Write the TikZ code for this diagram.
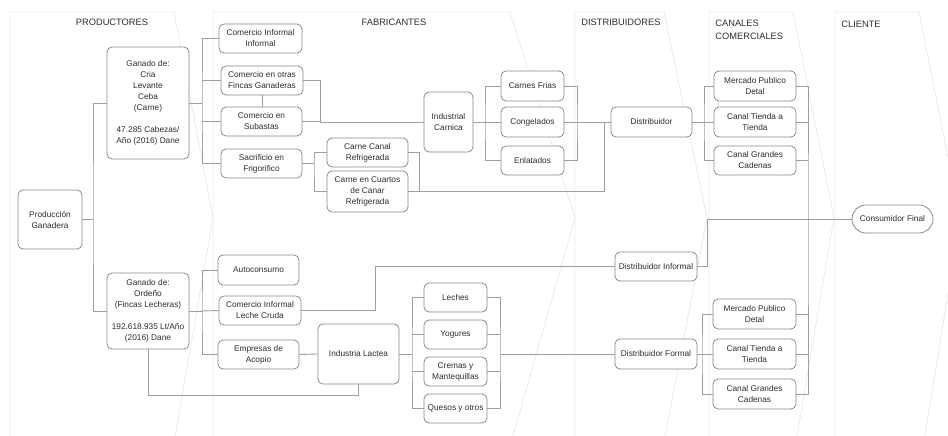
\documentclass[tikz,border=0pt]{standalone}
\usepackage{fontspec}
\setmainfont{Liberation Sans}
\definecolor{lineagris}{RGB}{158,158,158}
\definecolor{bordegris}{RGB}{135,135,135}
\definecolor{carrilgris}{RGB}{234,234,234}
\definecolor{textogris}{RGB}{45,45,45}

\begin{document}
\begin{tikzpicture}[x=1pt, y=-1pt, line width=0.8pt,
		caja/.style={draw=bordegris, fill=white, rounded corners=5pt, align=center, inner sep=1pt,
			line width=0.75pt, minimum width=81, minimum height=29, text=textogris,
			font=\fontsize{8.3}{11}\selectfont},
		enlace/.style={draw=lineagris, line width=0.9pt},
		carril/.style={draw=carrilgris, line width=0.8pt},
		titulo/.style={text=textogris, inner sep=0pt, font=\fontsize{9.3}{12.5}\selectfont}]
		\useasboundingbox (0,0) rectangle (948,436);
		\clip (0,0) rectangle (948,436);
		% carriles
		\draw[carril] (10,436) -- (10,12) -- (174,12) -- (213,218) -- (175,436);
		\draw[carril] (213,436) -- (213,12) -- (510,12) -- (575,218) -- (513,436);
		\draw[carril] (575,436) -- (575,12) -- (664,12) -- (707,218) -- (665,436);
		\draw[carril] (709,436) -- (709,12) -- (793,12) -- (834,218) -- (797,436);
		\draw[carril] (835,436) -- (835,12) -- (919,12) -- (960,218) -- (925,436);
		\node[titulo] (tProd) at (112,22.5) {PRODUCTORES};
		\node[titulo] (tFab) at (394,22.5) {FABRICANTES};
		\node[titulo, anchor=west] (tDist) at (581,22.5) {DISTRIBUIDORES};
		\node[titulo, anchor=west, align=left] (tCan) at (715,30) {CANALES\\COMERCIALES};
		\node[titulo, anchor=west] (tCli) at (841,24) {CLIENTE};
		% productores
		\node[caja, minimum width=64, minimum height=59] (prod) at (50,219.5) {Producción\\Ganadera};
		\node[caja, minimum width=82, minimum height=112] (ganC) at (148,103)
			{Ganado de:\\Cria\\Levante\\Ceba\\(Carne)\\[11pt]47.285 Cabezas/\\Año (2016) Dane};
		\node[caja, minimum width=82, minimum height=76] (ganO) at (148,311)
			{Ganado de:\\Ordeño\\(Fincas Lecheras)\\[11pt]192.618.935 Lt/Año\\(2016) Dane};
		% fabricantes
		\node[caja, minimum width=83] (cInf) at (260.5,38.5) {Comercio Informal\\Informal};
		\node[caja, minimum width=82] (cFin) at (262,80.5) {Comercio en otras\\Fincas Ganaderas};
		\node[caja] (cSub) at (261.5,121.5) {Comercio en\\Subastas};
		\node[caja] (sacr) at (261.5,163.5) {Sacrificio en\\Frigorifico};
		\node[caja] (canal) at (367.5,152.5) {Carne Canal\\Refrigerada};
		\node[caja, minimum height=41] (cuart) at (367.5,191.5) {Carne en Cuartos\\de Canar\\Refrigerada};
		\node[caja, minimum width=49, minimum height=60] (indC) at (448.5,122) {Industrial\\Carnica};
		\node[caja, minimum width=63, minimum height=30] (cfri) at (532.5,86) {Carnes Frias};
		\node[caja, minimum width=63, minimum height=30] (cong) at (532.5,122) {Congelados};
		\node[caja, minimum width=63] (enla) at (532.5,160.5) {Enlatados};
		\node[caja, minimum height=30] (auto) at (258.5,270) {Autoconsumo};
		\node[caja, minimum width=82] (cLec) at (260,310.5) {Comercio Informal\\Leche Cruda};
		\node[caja] (acop) at (258.5,354.5) {Empresas de\\Acopio};
		\node[caja, minimum height=60] (indL) at (358.5,354) {Industria Lactea};
		\node[caja, minimum width=63] (lech) at (455.5,297.5) {Leches};
		\node[caja, minimum width=63] (yog) at (455.5,334.5) {Yogures};
		\node[caja, minimum width=63] (crem) at (455.5,371.5) {Cremas y\\Mantequillas};
		\node[caja, minimum width=63] (ques) at (455.5,408.5) {Quesos y otros};
		% distribuidores
		\node[caja, minimum height=30] (dist) at (651.5,122) {Distribuidor};
		\node[caja, minimum width=82] (dInf) at (656,266.5) {Distribuidor Informal};
		\node[caja, minimum width=82, minimum height=30] (dFor) at (656,354) {Distribuidor Formal};
		% canales comerciales
		\node[caja, minimum width=82, minimum height=30] (mer1) at (755,86) {Mercado Publico\\Detal};
		\node[caja, minimum width=82, minimum height=30] (tie1) at (755,122) {Canal Tienda a\\Tienda};
		\node[caja, minimum width=82] (gra1) at (755,160.5) {Canal Grandes\\Cadenas};
		\node[caja, minimum width=83, minimum height=30] (mer2) at (754.5,314) {Mercado Publico\\Detal};
		\node[caja, minimum width=83, minimum height=30] (tie2) at (754.5,354) {Canal Tienda a\\Tienda};
		\node[caja, minimum width=83, minimum height=30] (gra2) at (754.5,394) {Canal Grandes\\Cadenas};
		% cliente
		\node[caja, minimum height=28, rounded corners=14pt] (cons) at (892.5,219) {Consumidor Final};
		% enlaces carne
		\coordinate (bP) at (93,219.5);
		\draw[enlace] (prod.east) -- (bP);
		\draw[enlace] (ganC.west) -| (bP) |- (ganO.west);
		\coordinate (bC) at (202,103);
		\draw[enlace] (ganC.east) -- (bC);
		\draw[enlace] (cInf.west) -| (bC) |- (sacr.west);
		\draw[enlace] (bC |- cFin.west) -- (cFin.west);
		\draw[enlace] (bC |- cSub.west) -- (cSub.west);
		\draw[enlace] (cFin.south) -- (cFin.south |- cSub.north);
		\coordinate (bF) at (320,122);
		\draw[enlace] (cFin.east) -| (bF) -- (indC.west);
		\draw[enlace] (cSub.east) -- (cSub.east -| bF);
		\coordinate (bS) at (314,163.5);
		\draw[enlace] (sacr.east) -- (bS);
		\draw[enlace] (canal.west) -| (bS) |- (cuart.west);
		\coordinate (bK) at (419,191.5);
		\coordinate (bD) at (604,122);
		\draw[enlace] (canal.east) -| (bK) -| (bD);
		\draw[enlace] (cuart.east) -- (bK);
		\coordinate (bI) at (485,122);
		\draw[enlace] (indC.east) -- (bI);
		\draw[enlace] (cfri.west) -| (bI) |- (enla.west);
		\draw[enlace] (bI) -- (cong.west);
		\coordinate (bO) at (577,122);
		\draw[enlace] (cfri.east) -| (bO) |- (enla.east);
		\draw[enlace] (cong.east) -- (dist.west);
		\coordinate (bT) at (704,122);
		\draw[enlace] (dist.east) -- (bT);
		\draw[enlace] (mer1.west) -| (bT) |- (gra1.west);
		\draw[enlace] (bT) -- (tie1.west);
		\coordinate (bR) at (808,219);
		\draw[enlace] (mer1.east) -| (bR) |- (gra2.east);
		\draw[enlace] (tie1.east) -- (tie1.east -| bR);
		\draw[enlace] (gra1.east) -- (gra1.east -| bR);
		\draw[enlace] (mer2.east) -- (mer2.east -| bR);
		\draw[enlace] (tie2.east) -- (tie2.east -| bR);
		\draw[enlace] (bR) -- (cons.west);
		\coordinate (bN) at (707,219);
		\draw[enlace] (dInf.east) -| (bN) -- (bR);
		% enlaces leche
		\coordinate (bG) at (202,311);
		\draw[enlace] (ganO.east) -- (bG);
		\draw[enlace] (auto.west) -| (bG) |- (acop.west);
		\draw[enlace] (bG) -- (cLec.west);
		\coordinate (bL) at (375,310.5);
		\draw[enlace] (cLec.east) -- (bL) |- (dInf.west);
		\draw[enlace] (acop.east) -- (indL.west);
		\coordinate (bB) at (148,395);
		\draw[enlace] (ganO.south) -- (bB) -| (indL.south);
		\coordinate (bQ) at (412,354);
		\draw[enlace] (indL.east) -- (bQ);
		\draw[enlace] (lech.west) -| (bQ) |- (ques.west);
		\draw[enlace] (bQ |- yog.west) -- (yog.west);
		\draw[enlace] (bQ |- crem.west) -- (crem.west);
		\coordinate (bX) at (500,354);
		\draw[enlace] (lech.east) -| (bX) |- (ques.east);
		\draw[enlace] (yog.east) -- (yog.east -| bX);
		\draw[enlace] (crem.east) -- (crem.east -| bX);
		\draw[enlace] (bX) -- (dFor.west);
		\coordinate (bY) at (702,354);
		\draw[enlace] (dFor.east) -- (bY);
		\draw[enlace] (mer2.west) -| (bY) |- (gra2.west);
		\draw[enlace] (bY) -- (tie2.west);
	\end{tikzpicture}
\end{document}
